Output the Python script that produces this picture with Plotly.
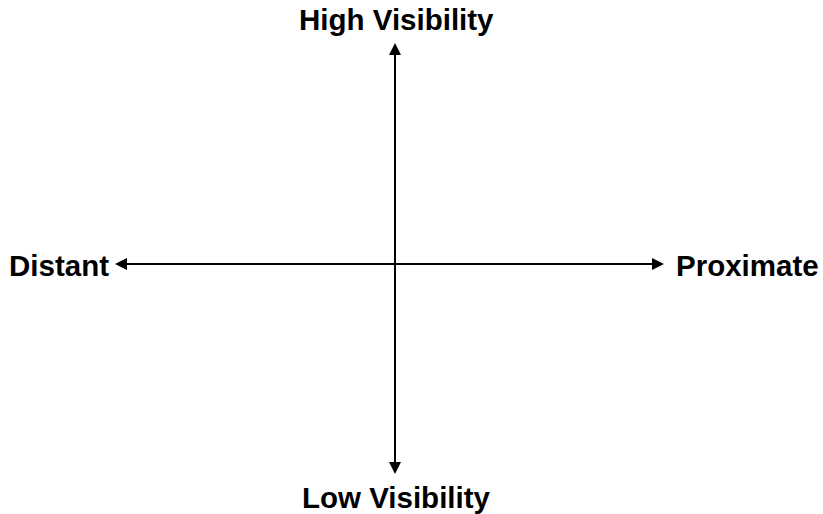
import plotly.graph_objects as go

# Labels of the two-dimension diagram
top_label = "High Visibility"
bottom_label = "Low Visibility"
left_label = "Distant"
right_label = "Proximate"

# Diagram geometry (canvas pixel units)
W, H = 823, 514
cx, cy = 395, 264          # crossing point
left_x, right_x = 115, 664  # horizontal arrow tips
top_y, bottom_y = 43, 474   # vertical arrow tips

fig = go.Figure()
fig.update_xaxes(range=[0, W], visible=False, fixedrange=True)
fig.update_yaxes(range=[H, 0], visible=False, fixedrange=True)

# the two axis lines
fig.add_shape(type="line", x0=left_x + 8, x1=right_x - 8, y0=cy, y1=cy,
              xref="x", yref="y", line=dict(color="black", width=2))
fig.add_shape(type="line", x0=cx, x1=cx, y0=top_y + 8, y1=bottom_y - 8,
              xref="x", yref="y", line=dict(color="black", width=2))

arrow_style = dict(showarrow=True, arrowhead=2, arrowsize=1.2, arrowwidth=2,
                   arrowcolor="black", text="", axref="x", ayref="y", xref="x", yref="y")
for (ex, ey) in [(cx, top_y), (cx, bottom_y), (left_x, cy), (right_x, cy)]:
    fig.add_annotation(x=ex, y=ey, ax=cx, ay=cy, **arrow_style)

font = dict(family="Liberation Sans, Arial, sans-serif", size=29.5, color="black")
lab = dict(showarrow=False, xref="x", yref="y", font=font)
fig.add_annotation(x=396, y=19, text="<b>%s</b>" % top_label, xanchor="center", yanchor="middle", **lab)
fig.add_annotation(x=396, y=497, text="<b>%s</b>" % bottom_label, xanchor="center", yanchor="middle", **lab)
fig.add_annotation(x=7, y=265, text="<b>%s</b>" % left_label, xanchor="left", yanchor="middle", **lab)
fig.add_annotation(x=821, y=265, text="<b>%s</b>" % right_label, xanchor="right", yanchor="middle", **lab)

fig.update_layout(width=W, height=H, margin=dict(l=0, r=0, t=0, b=0),
                  paper_bgcolor="white", plot_bgcolor="white", showlegend=False)

fig.write_html("out.html", config={"displayModeBar": False},
               post_script="document.body.style.margin='0';document.body.style.overflow='hidden';")
